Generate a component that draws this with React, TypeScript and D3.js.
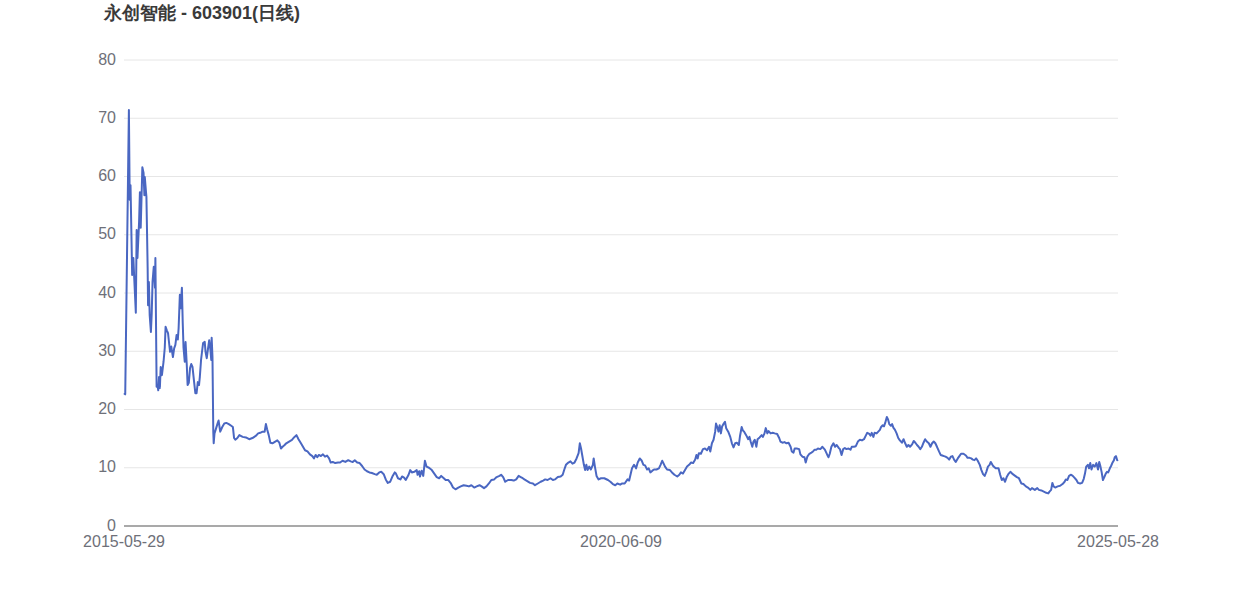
import React, { useEffect, useRef } from "react";
import * as d3 from "d3";

const title = "永创智能 - 603901(日线)";
const yTicks = [0, 10, 20, 30, 40, 50, 60, 70, 80];
const xTickLabels = ["2015-05-29", "2020-06-09", "2025-05-28"];
const totalDays = 2438;

// trading-day index since listing
const days = [
  0, 3, 12, 14, 16, 20, 23, 25, 29, 31, 33, 37, 39, 41, 45, 48, 50, 51, 54, 55, 58, 59, 61, 63, 66, 68, 70, 73, 76, 77,
  80, 82, 84, 86, 88, 90, 93, 97, 100, 102, 105, 108, 110, 113, 116, 120, 123, 126, 129, 132, 134, 137, 139, 142, 144,
  146, 149, 151, 154, 156, 159, 162, 165, 168, 172, 175, 178, 181, 184, 186, 189, 191, 194, 198, 200, 203, 206, 209,
  212, 214, 215, 217, 219, 220, 222, 226, 230, 232, 236, 241, 246, 251, 257, 263, 267, 270, 273, 278, 283, 291, 299,
  307, 315, 324, 329, 334, 340, 345, 348, 351, 355, 359, 364, 371, 376, 381, 385, 389, 394, 398, 405, 412, 417, 423,
  428, 434, 439, 444, 450, 456, 462, 466, 470, 474, 478, 483, 488, 493, 498, 503, 507, 512, 518, 525, 530, 536, 543,
  550, 556, 561, 566, 572, 578, 584, 590, 596, 602, 608, 615, 620, 626, 631, 637, 642, 647, 653, 659, 664, 667, 672,
  678, 682, 687, 691, 698, 702, 706, 712, 718, 720, 724, 726, 730, 734, 738, 742, 748, 755, 761, 767, 773, 778, 783,
  789, 795, 802, 807, 813, 820, 826, 833, 840, 846, 852, 859, 865, 872, 877, 883, 889, 895, 901, 908, 914, 921, 925,
  930, 935, 942, 950, 956, 962, 968, 973, 978, 982, 989, 996, 1003, 1008, 1015, 1022, 1028, 1033, 1039, 1046, 1052,
  1057, 1064, 1071, 1076, 1080, 1084, 1090, 1095, 1100, 1105, 1110, 1115, 1118, 1121, 1124, 1128, 1131, 1134, 1137,
  1141, 1145, 1150, 1152, 1155, 1159, 1164, 1170, 1178, 1187, 1193, 1199, 1205, 1210, 1217, 1222, 1228, 1235, 1239,
  1243, 1246, 1251, 1256, 1260, 1265, 1270, 1274, 1278, 1283, 1287, 1291, 1296, 1300, 1306, 1312, 1316, 1320, 1323,
  1327, 1332, 1339, 1344, 1350, 1357, 1362, 1366, 1371, 1376, 1381, 1386, 1391, 1396, 1401, 1404, 1407, 1410, 1415,
  1420, 1425, 1430, 1435, 1438, 1442, 1446, 1450, 1452, 1456, 1458, 1461, 1464, 1467, 1471, 1474, 1477, 1482, 1487,
  1491, 1495, 1499, 1503, 1508, 1511, 1515, 1518, 1521, 1526, 1531, 1534, 1537, 1541, 1544, 1547, 1551, 1554, 1559,
  1564, 1567, 1571, 1574, 1578, 1581, 1586, 1591, 1596, 1602, 1607, 1610, 1615, 1620, 1625, 1630, 1635, 1638, 1642,
  1645, 1650, 1656, 1659, 1664, 1669, 1672, 1676, 1681, 1686, 1690, 1694, 1698, 1702, 1708, 1713, 1719, 1725, 1728,
  1731, 1735, 1740, 1744, 1748, 1753, 1756, 1760, 1764, 1768, 1772, 1777, 1782, 1785, 1790, 1795, 1800, 1805, 1810,
  1815, 1820, 1823, 1828, 1831, 1834, 1838, 1841, 1846, 1850, 1854, 1857, 1861, 1864, 1867, 1871, 1874, 1877, 1881,
  1884, 1887, 1891, 1895, 1899, 1903, 1908, 1912, 1916, 1920, 1924, 1928, 1933, 1937, 1941, 1945, 1949, 1953, 1957,
  1961, 1965, 1969, 1974, 1978, 1982, 1986, 1990, 1994, 1999, 2003, 2007, 2011, 2015, 2020, 2024, 2028, 2032, 2036,
  2040, 2045, 2049, 2053, 2059, 2065, 2069, 2074, 2078, 2082, 2086, 2090, 2094, 2099, 2103, 2107, 2111, 2115, 2119,
  2123, 2126, 2130, 2133, 2138, 2145, 2149, 2153, 2157, 2161, 2165, 2170, 2174, 2180, 2184, 2190, 2195, 2201, 2206,
  2212, 2217, 2223, 2227, 2234, 2240, 2244, 2250, 2256, 2262, 2267, 2270, 2274, 2277, 2280, 2284, 2290, 2296, 2302,
  2307, 2310, 2314, 2318, 2323, 2327, 2331, 2336, 2340, 2345, 2350, 2354, 2357, 2360, 2364, 2367, 2370, 2373, 2377,
  2381, 2385, 2389, 2392, 2395, 2398, 2401, 2405, 2408, 2411, 2414, 2418, 2421, 2424, 2428, 2430, 2433, 2436, 2438,
];

// closing prices
const closes = [
  22.8, 22.6, 71.4, 56.0, 58.5, 43.1, 46.0, 42.7, 36.6, 50.8, 46.0, 52.2, 57.3, 51.2, 61.6, 60.6, 56.8, 59.9, 57.3, 56.5,
  44.3, 37.9, 41.9, 36.2, 33.3, 36.5, 41.9, 44.5, 40.9, 46.0, 23.9, 24.2, 23.3, 25.6, 23.7, 27.3, 25.9, 28.2, 30.6, 34.2,
  33.6, 33.1, 31.8, 29.9, 30.8, 29.0, 30.5, 31.1, 32.8, 32.0, 34.0, 39.7, 37.4, 40.9, 35.0, 30.6, 28.2, 31.6, 27.6, 24.2,
  24.6, 27.1, 27.8, 27.3, 24.7, 22.8, 22.8, 24.7, 24.2, 25.6, 28.5, 29.7, 31.4, 31.6, 29.9, 28.8, 30.4, 31.9, 30.2, 28.5,
  32.3, 29.0, 16.1, 14.2, 15.9, 16.8, 17.7, 18.1, 16.2, 17.0, 17.6, 17.7, 17.5, 17.2, 17.0, 15.1, 14.8, 15.1, 15.6, 15.3,
  15.2, 14.9, 15.1, 15.5, 15.9, 16.0, 16.2, 16.2, 17.5, 16.6, 15.6, 14.3, 14.2, 14.5, 14.7, 14.3, 13.3, 13.6, 13.9, 14.2,
  14.5, 14.8, 15.2, 15.6, 14.9, 14.2, 13.6, 13.0, 12.8, 12.3, 12.0, 11.6, 12.2, 11.8, 12.2, 12.0, 12.3, 11.9, 12.1, 11.6,
  10.9, 11.0, 10.8, 10.9, 10.9, 11.2, 11.0, 11.3, 11.1, 11.0, 11.3, 10.9, 10.8, 10.3, 9.7, 9.4, 9.2, 9.1, 8.9, 8.8,
  9.2, 9.3, 8.9, 8.0, 7.4, 7.6, 8.6, 9.2, 9.0, 8.2, 8.0, 8.5, 8.3, 7.9, 8.8, 9.6, 9.2, 9.3, 9.6, 8.8,
  9.4, 8.5, 9.5, 8.6, 11.2, 10.2, 10.0, 9.6, 9.0, 8.4, 8.2, 8.6, 8.3, 7.9, 7.9, 7.3, 6.6, 6.3, 6.6, 6.8,
  7.0, 6.9, 6.8, 7.0, 6.6, 6.8, 7.0, 6.8, 6.5, 6.8, 7.3, 7.9, 8.0, 8.4, 8.6, 8.8, 8.4, 7.6, 7.9, 7.9,
  7.8, 8.0, 8.6, 8.4, 8.2, 8.0, 7.7, 7.4, 7.3, 7.0, 7.3, 7.6, 7.8, 8.0, 7.9, 8.2, 7.9, 8.0, 8.4, 8.5,
  8.8, 9.7, 10.5, 10.9, 11.1, 10.7, 10.9, 11.6, 12.5, 14.2, 13.3, 12.1, 10.5, 9.6, 10.5, 9.6, 10.2, 9.7, 10.5, 11.6,
  10.2, 8.6, 8.0, 8.2, 8.2, 7.9, 7.6, 7.2, 7.0, 7.3, 7.1, 7.3, 7.3, 8.0, 7.8, 9.0, 9.9, 10.5, 9.9, 10.9,
  11.6, 11.2, 10.5, 10.4, 9.7, 9.9, 9.2, 9.5, 9.7, 9.7, 9.9, 10.5, 11.2, 10.8, 10.2, 9.7, 9.6, 9.2, 8.8, 8.5,
  8.8, 9.2, 9.0, 9.6, 10.2, 10.5, 10.9, 10.8, 11.4, 12.2, 11.6, 12.5, 12.4, 13.2, 13.3, 13.0, 13.6, 12.8, 14.2, 14.8,
  16.2, 17.6, 16.8, 16.2, 17.3, 15.9, 17.1, 17.6, 17.9, 16.8, 16.2, 15.3, 14.2, 13.5, 14.2, 14.3, 13.9, 15.5, 17.0, 16.4,
  16.2, 15.6, 14.9, 15.3, 14.5, 13.6, 14.5, 14.8, 13.6, 14.9, 15.2, 15.6, 15.3, 15.9, 16.8, 15.9, 16.3, 15.9, 16.0, 15.9,
  15.8, 15.1, 14.5, 14.3, 14.4, 14.2, 14.3, 13.6, 12.8, 12.6, 13.3, 13.3, 13.2, 12.3, 11.9, 11.8, 10.9, 11.9, 12.4, 12.6,
  12.8, 13.1, 13.1, 13.3, 13.2, 13.6, 13.1, 12.2, 11.8, 12.4, 13.6, 14.2, 13.6, 13.9, 13.4, 13.2, 12.2, 13.2, 13.4, 13.2,
  13.3, 13.1, 13.6, 13.6, 13.7, 14.5, 14.8, 14.7, 14.9, 15.6, 16.0, 15.8, 15.5, 16.0, 15.3, 16.0, 15.9, 16.2, 16.5, 17.0,
  17.3, 17.1, 17.7, 18.7, 18.3, 17.5, 17.2, 17.5, 16.9, 16.5, 15.9, 15.1, 14.7, 14.3, 14.9, 14.2, 13.6, 13.9, 13.6, 14.0,
  14.6, 14.3, 13.9, 13.6, 13.2, 13.6, 14.3, 14.9, 14.5, 14.2, 13.6, 14.2, 14.5, 14.2, 13.6, 12.8, 12.2, 12.1, 12.0, 11.9,
  11.7, 11.4, 11.9, 12.0, 11.4, 11.0, 11.6, 12.0, 12.4, 12.4, 12.1, 11.7, 11.7, 11.6, 11.4, 11.3, 11.6, 11.2, 10.5, 9.6,
  8.9, 8.6, 9.3, 10.2, 10.5, 11.0, 10.5, 10.2, 9.9, 9.9, 8.8, 7.9, 8.2, 7.6, 8.4, 9.0, 9.3, 8.9, 8.7, 8.4,
  8.2, 7.3, 7.2, 6.8, 6.6, 6.2, 6.5, 6.2, 6.5, 6.2, 6.1, 5.9, 5.7, 5.6, 5.9, 6.2, 7.4, 6.8, 6.6, 6.8,
  6.9, 7.2, 7.6, 8.0, 7.9, 8.6, 8.8, 8.6, 8.3, 7.9, 7.4, 7.3, 7.4, 8.1, 9.0, 10.2, 10.5, 9.9, 10.8, 9.7,
  10.5, 10.2, 10.8, 9.7, 11.0, 10.2, 9.2, 7.9, 8.5, 9.0, 9.3, 9.2, 9.9, 10.3, 10.8, 11.3, 11.8, 12.0, 11.3, 11.4,
];

const W = 1242;
const H = 596;
const M = { left: 124, right: 124, top: 60, bottom: 70 };

export default function App() {
  const ref = useRef<SVGSVGElement | null>(null);

  useEffect(() => {
    const svg = d3.select(ref.current);
    svg.selectAll("*").remove();

    const x = d3.scaleLinear().domain([0, totalDays]).range([M.left, W - M.right]);
    const y = d3.scaleLinear().domain([0, 80]).range([H - M.bottom, M.top]);
    const font = "'Liberation Sans', Arial, sans-serif";

    svg
      .append("text")
      .attr("x", 104)
      .attr("y", 19)
      .attr("font-family", font)
      .attr("font-size", 18)
      .attr("font-weight", "bold")
      .attr("fill", "#3a3a3a")
      .text(title);

    // grid + y labels
    const g = svg.append("g");
    yTicks.forEach((t) => {
      if (t !== 0) {
        g.append("line")
          .attr("x1", M.left)
          .attr("x2", W - M.right)
          .attr("y1", y(t))
          .attr("y2", y(t))
          .attr("stroke", "#e6e6e6")
          .attr("stroke-width", 1);
      }
      g.append("text")
        .attr("x", M.left - 8)
        .attr("y", y(t) - 1)
        .attr("dy", "0.35em")
        .attr("text-anchor", "end")
        .attr("font-family", font)
        .attr("font-size", 16)
        .attr("fill", "#6e7079")
        .text(String(t));
    });

    // x axis line
    g.append("line")
      .attr("x1", M.left)
      .attr("x2", W - M.right)
      .attr("y1", y(0))
      .attr("y2", y(0))
      .attr("stroke", "#8c8c8c")
      .attr("stroke-width", 1.5);

    const labelPos = [0, Math.round(totalDays / 2), totalDays];
    xTickLabels.forEach((lab, i) => {
      g.append("text")
        .attr("x", x(labelPos[i]))
        .attr("y", y(0) + 21)
        .attr("text-anchor", "middle")
        .attr("font-family", font)
        .attr("font-size", 16)
        .attr("fill", "#6e7079")
        .text(lab);
    });

    const data = days.map((d, i) => ({ d, v: closes[i] }));
    const line = d3
      .line<{ d: number; v: number }>()
      .x((p) => x(p.d))
      .y((p) => y(p.v));

    svg
      .append("path")
      .datum(data)
      .attr("d", line)
      .attr("fill", "none")
      .attr("stroke", "#4a67c2")
      .attr("stroke-width", 2)
      .attr("stroke-linejoin", "round");
  }, []);

  return (
    <svg
      ref={ref}
      width={W}
      height={H}
      style={{ position: "absolute", left: 0, top: 0, background: "#fff" }}
    />
  );
}
